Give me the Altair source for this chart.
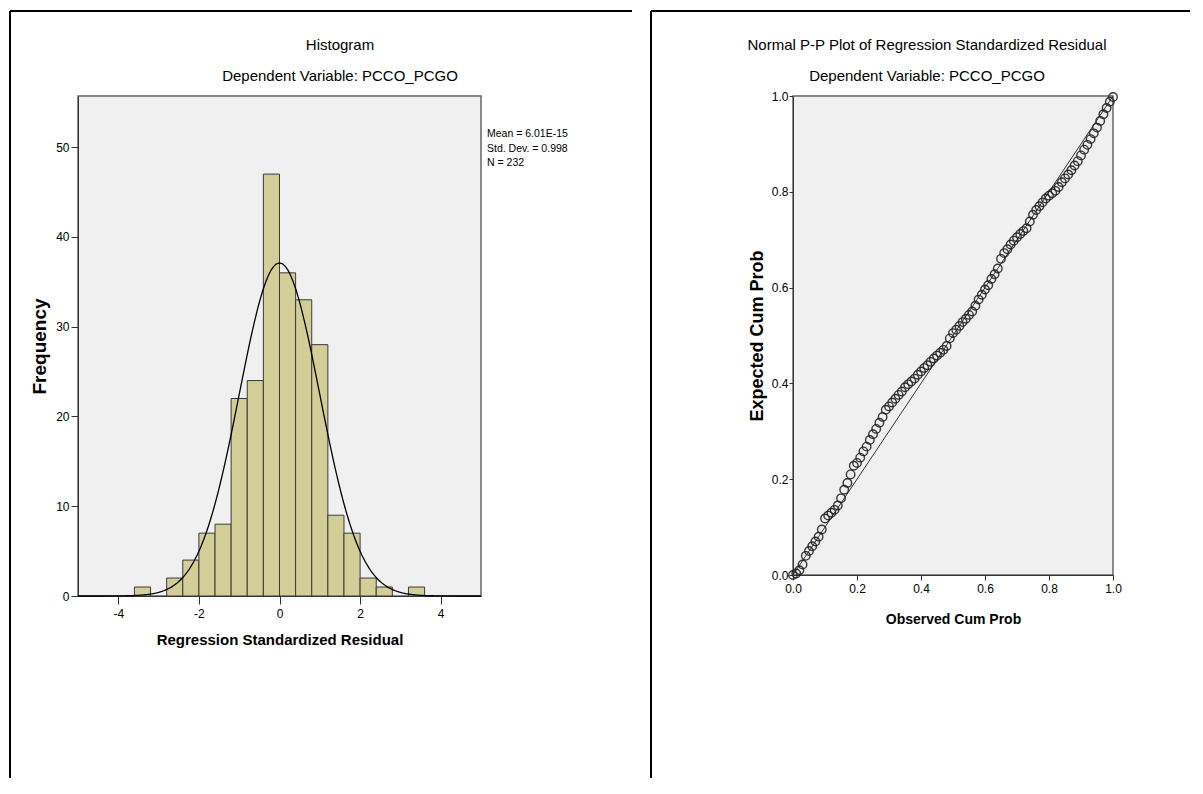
import altair as alt
import pandas as pd
import numpy as np

# ---------------- data ----------------
BIN_LO = [-3.6, -2.8, -2.4, -2.0, -1.6, -1.2, -0.8, -0.4, 0.0, 0.4, 0.8, 1.2, 1.6, 2.0, 2.4, 3.2]
BIN_HI = [-3.2, -2.4, -2.0, -1.6, -1.2, -0.8, -0.4, 0.0, 0.4, 0.8, 1.2, 1.6, 2.0, 2.4, 2.8, 3.6]
COUNTS = [1, 2, 4, 7, 8, 22, 24, 47, 36, 33, 28, 9, 7, 2, 1, 1]
MEAN = 6.01e-15
SD = 0.998
N = 232
BIN_WIDTH = 0.4
STATS_LINES = ["Mean = 6.01E-15", "Std. Dev. = 0.998", "N = 232"]
HIST_X_TICKS = [-4, -2, 0, 2, 4]
HIST_Y_TICKS = [0, 10, 20, 30, 40, 50]
PP_TICKS = [0.0, 0.2, 0.4, 0.6, 0.8, 1.0]

HIST_TITLE = "Histogram"
PP_TITLE = "Normal P-P Plot of Regression Standardized Residual"
SUBTITLE = "Dependent Variable: PCCO_PCGO"

OBSERVED = [
    0.00, 0.01, 0.02, 0.03, 0.04, 0.05, 0.06, 0.07, 0.08, 0.09,
    0.10, 0.11, 0.12, 0.13, 0.14, 0.15, 0.16, 0.17, 0.18, 0.19,
    0.20, 0.21, 0.22, 0.23, 0.24, 0.25, 0.26, 0.27, 0.28, 0.29,
    0.30, 0.31, 0.32, 0.33, 0.34, 0.35, 0.36, 0.37, 0.38, 0.39,
    0.40, 0.41, 0.42, 0.43, 0.44, 0.45, 0.46, 0.47, 0.48, 0.49,
    0.50, 0.51, 0.52, 0.53, 0.54, 0.55, 0.56, 0.57, 0.58, 0.59,
    0.60, 0.61, 0.62, 0.63, 0.64, 0.65, 0.66, 0.67, 0.68, 0.69,
    0.70, 0.71, 0.72, 0.73, 0.74, 0.75, 0.76, 0.77, 0.78, 0.79,
    0.80, 0.81, 0.82, 0.83, 0.84, 0.85, 0.86, 0.87, 0.88, 0.89,
    0.90, 0.91, 0.92, 0.93, 0.94, 0.95, 0.96, 0.97, 0.98, 0.99,
    1.00,
]
EXPECTED = [
    0.000, 0.003, 0.010, 0.022, 0.040, 0.050, 0.060, 0.070, 0.080, 0.095,
    0.118, 0.124, 0.130, 0.136, 0.145, 0.160, 0.178, 0.192, 0.210, 0.228,
    0.234, 0.245, 0.258, 0.268, 0.282, 0.294, 0.305, 0.318, 0.330, 0.345,
    0.352, 0.360, 0.368, 0.376, 0.383, 0.392, 0.398, 0.404, 0.410, 0.418,
    0.425, 0.432, 0.438, 0.445, 0.452, 0.458, 0.464, 0.470, 0.478, 0.494,
    0.505, 0.512, 0.520, 0.528, 0.535, 0.543, 0.550, 0.562, 0.575, 0.585,
    0.596, 0.605, 0.618, 0.628, 0.640, 0.660, 0.672, 0.680, 0.690, 0.698,
    0.705, 0.712, 0.718, 0.724, 0.738, 0.752, 0.762, 0.770, 0.778, 0.786,
    0.792, 0.797, 0.802, 0.810, 0.820, 0.828, 0.836, 0.845, 0.855, 0.864,
    0.876, 0.888, 0.898, 0.910, 0.922, 0.934, 0.948, 0.962, 0.975, 0.988,
    0.998,
]

# ---------------- style ----------------
SANS = "Liberation Sans, Arial, sans-serif"
W1, H1 = 403, 500
W2, H2 = 320, 479
MINUS_FIX = "replace(datum.label, '\u2212', '-')"

hist_df = pd.DataFrame({"lo": BIN_LO, "hi": BIN_HI, "count": COUNTS, "base": [0] * len(COUNTS)})
xs = np.linspace(-5, 5, 241)
curve_df = pd.DataFrame({
    "x": xs,
    "y": N * BIN_WIDTH / (SD * np.sqrt(2 * np.pi)) * np.exp(-0.5 * ((xs - MEAN) / SD) ** 2),
})
pp_df = pd.DataFrame({"obs": OBSERVED, "exp": EXPECTED})
diag_df = pd.DataFrame({"obs": [0.0, 1.0], "exp": [0.0, 1.0]})
one = pd.DataFrame({"k": [0]})

# ---------------- left: histogram ----------------
hx = alt.Scale(domain=[-5, 5], nice=False)
hy = alt.Scale(domain=[0, 55.7], nice=False)

bars = alt.Chart(hist_df).mark_rect(fill="#D3CE97", stroke="#3a3a3a", strokeWidth=1).encode(
    x=alt.X("lo:Q", scale=hx, axis=alt.Axis(
        values=HIST_X_TICKS, grid=False, title="Regression Standardized Residual",
        labelExpr=MINUS_FIX,
        tickSize=8, labelPadding=4, labelFont=SANS, labelFontSize=12, labelColor="#000",
        titleFont=SANS, titleFontSize=15, titleFontWeight="bold", titleColor="#000",
        titlePadding=13, domainColor="#333", tickColor="#333", labelFlush=False)),
    x2="hi:Q",
    y=alt.Y("count:Q", scale=hy, axis=alt.Axis(
        values=HIST_Y_TICKS, grid=False, title="Frequency",
        tickSize=7, labelPadding=2, labelFont=SANS, labelFontSize=12, labelColor="#000",
        titleFont=SANS, titleFontSize=19, titleFontWeight="bold", titleColor="#000",
        titlePadding=6, domainColor="#333", tickColor="#333")),
    y2="base:Q",
)
curve = alt.Chart(curve_df).mark_line(color="#000", strokeWidth=1.3).encode(
    x=alt.X("x:Q", scale=hx), y=alt.Y("y:Q", scale=hy))

h_title = alt.Chart(one).mark_text(font=SANS, fontSize=15, color="#000", align="center", baseline="middle").encode(
    x=alt.value(262), y=alt.value(-51), text=alt.value(HIST_TITLE))
h_sub = alt.Chart(one).mark_text(font=SANS, fontSize=15, color="#000", align="center", baseline="middle").encode(
    x=alt.value(262), y=alt.value(-20), text=alt.value(SUBTITLE))
h_stats = alt.Chart(one).mark_text(font=SANS, fontSize=10.5, color="#000", align="left", baseline="top",
                                   lineBreak="\n", lineHeight=14.5).encode(
    x=alt.value(409), y=alt.value(33), text=alt.value("\n".join(STATS_LINES)))
h_frame_v = alt.Chart(one).mark_rule(color="#000", strokeWidth=2).encode(
    x=alt.value(-68), y=alt.value(-85), y2=alt.value(682))
h_frame_t = alt.Chart(one).mark_rule(color="#000", strokeWidth=2).encode(
    x=alt.value(-68), x2=alt.value(554), y=alt.value(-85))

left = alt.layer(bars, curve, h_title, h_sub, h_stats, h_frame_v, h_frame_t).properties(width=W1, height=H1)

# ---------------- right: P-P plot ----------------
px = alt.Scale(domain=[0, 1], nice=False)
py = alt.Scale(domain=[0, 1], nice=False)

diag = alt.Chart(diag_df).mark_line(color="#333", strokeWidth=1).encode(
    x=alt.X("obs:Q", scale=px, axis=alt.Axis(
        values=PP_TICKS, format=".1f", grid=False, title="Observed Cum Prob",
        tickSize=5, labelPadding=3, labelFont=SANS, labelFontSize=12, labelColor="#000",
        titleFont=SANS, titleFontSize=14, titleFontWeight="bold", titleColor="#000",
        titlePadding=18, domainColor="#333", tickColor="#333", labelFlush=False)),
    y=alt.Y("exp:Q", scale=py, axis=alt.Axis(
        values=PP_TICKS, format=".1f", grid=False, title="Expected Cum Prob",
        tickSize=4, labelPadding=1, labelFont=SANS, labelFontSize=12, labelColor="#000",
        titleFont=SANS, titleFontSize=18, titleFontWeight="bold", titleColor="#000",
        titlePadding=5, domainColor="#333", tickColor="#333")),
)
pts = alt.Chart(pp_df).mark_point(shape="circle", filled=False, size=72, stroke="#222",
                                  strokeWidth=1.4, opacity=0.9).encode(
    x=alt.X("obs:Q", scale=px), y=alt.Y("exp:Q", scale=py))

p_title = alt.Chart(one).mark_text(font=SANS, fontSize=15, color="#000", align="center", baseline="middle").encode(
    x=alt.value(134), y=alt.value(-51), text=alt.value(PP_TITLE))
p_sub = alt.Chart(one).mark_text(font=SANS, fontSize=15, color="#000", align="center", baseline="middle").encode(
    x=alt.value(134), y=alt.value(-20), text=alt.value(SUBTITLE))
p_frame_v = alt.Chart(one).mark_rule(color="#000", strokeWidth=2).encode(
    x=alt.value(-142), y=alt.value(-85), y2=alt.value(682))
p_frame_t = alt.Chart(one).mark_rule(color="#000", strokeWidth=2).encode(
    x=alt.value(-142), x2=alt.value(397), y=alt.value(-85))

right = alt.layer(diag, pts, p_title, p_sub, p_frame_v, p_frame_t).properties(width=W2, height=H2)

chart = alt.hconcat(left, right, spacing=15).resolve_scale(x="independent", y="independent").properties(
    padding={"left": 0, "top": 1, "right": 0, "bottom": 0}
).configure_view(fill="#F0F0F0", stroke="#666", strokeWidth=1.5)

chart.save("out.html", embed_options={"renderer": "svg", "actions": False})
